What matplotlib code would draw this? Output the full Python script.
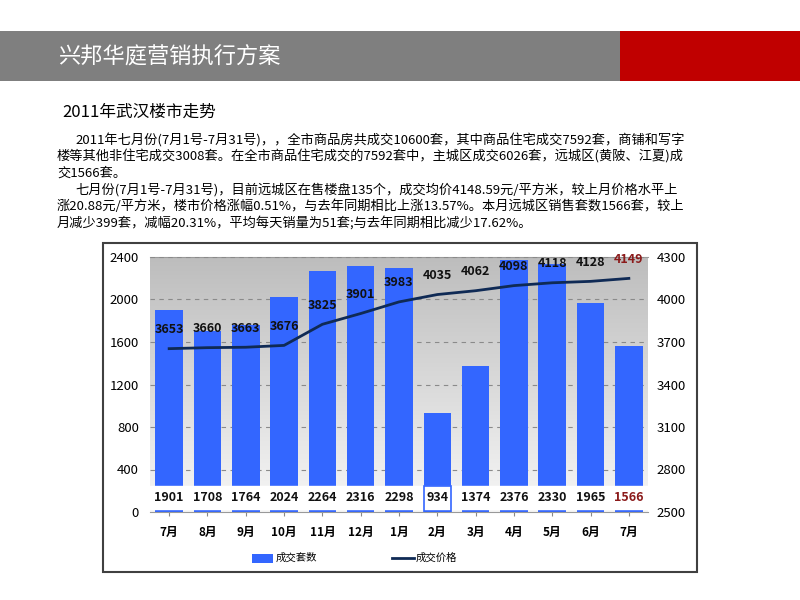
import numpy as np
import matplotlib
matplotlib.use("Agg")
import matplotlib.pyplot as plt
from matplotlib.patches import Rectangle

plt.rcParams['font.family'] = ['Noto Sans CJK SC', 'DejaVu Sans']

months = ['7月', '8月', '9月', '10月', '11月', '12月', '1月', '2月', '3月', '4月', '5月', '6月', '7月']
counts = [1901, 1708, 1764, 2024, 2264, 2316, 2298, 934, 1374, 2376, 2330, 1965, 1566]
prices = [3653, 3660, 3663, 3676, 3825, 3901, 3983, 4035, 4062, 4098, 4118, 4128, 4149]

header = '兴邦华庭营销执行方案'
subtitle = '2011年武汉楼市走势'
para = [
    '2011年七月份(7月1号-7月31号)，，全市商品房共成交10600套，其中商品住宅成交7592套，商铺和写字',
    '楼等其他非住宅成交3008套。在全市商品住宅成交的7592套中，主城区成交6026套，远城区(黄陂、江夏)成',
    '交1566套。',
    '七月份(7月1号-7月31号)，目前远城区在售楼盘135个，成交均价4148.59元/平方米，较上月价格水平上',
    '涨20.88元/平方米，楼市价格涨幅0.51%，与去年同期相比上涨13.57%。本月远城区销售套数1566套，较上',
    '月减少399套，减幅20.31%，平均每天销量为51套;与去年同期相比减少17.62%。',
]
indent = [True, False, False, True, False, False]

W, H = 800, 600
fig = plt.figure(figsize=(8, 6), dpi=100)

def fx(px):
    return px / W

def fy(py):
    return 1 - py / H

# header band
fig.patches.append(Rectangle((0, fy(81)), fx(620), fy(31) - fy(81), transform=fig.transFigure,
                             facecolor='#7f7f7f', edgecolor='none', zorder=-2))
fig.patches.append(Rectangle((fx(620), fy(81)), 1 - fx(620), fy(31) - fy(81), transform=fig.transFigure,
                             facecolor='#c00000', edgecolor='none', zorder=-2))
fig.text(fx(58), fy(57), header, color='white', fontsize=16, va='center', ha='left')
fig.text(fx(62), fy(112), subtitle, color='black', fontsize=12, va='center', ha='left')

y0 = 140
for i, line in enumerate(para):
    x = 75 if indent[i] else 57
    fig.text(fx(x), fy(y0 + i * 16.5), line, fontsize=9.5, va='center', ha='left')

# chart frame
fig.patches.append(Rectangle((fx(103), fy(572)), fx(697) - fx(103), fy(243) - fy(572),
                             transform=fig.transFigure, facecolor='white',
                             edgecolor='#404040', linewidth=1.5, zorder=-1))

ax = fig.add_axes([fx(150), fy(512), fx(648) - fx(150), fy(257) - fy(512)])
ax2 = ax.twinx()
ax.set_zorder(ax2.get_zorder() + 1)
ax.patch.set_visible(False)

x = np.arange(len(months))
ax.set_xlim(-0.5, len(months) - 0.5)
ax.set_ylim(0, 2400)
ax2.set_ylim(2500, 4300)

# gradient background
grad = np.linspace(0, 1, 256).reshape(-1, 1)
ax2.imshow(grad, extent=(-0.5, len(months) - 0.5, 2500, 4300), aspect='auto',
           cmap=matplotlib.colors.LinearSegmentedColormap.from_list('g', ['#f7f7f7', '#bdbdbd']),
           origin='lower', zorder=0)

for t in range(400, 2401, 400):
    ax.axhline(t, color='#8a8a8a', linestyle=(0, (4, 4)), linewidth=0.8, zorder=1)

ax.bar(x, counts, width=0.72, color='#3366ff', zorder=2)
# white label band over the bars
ax.axhspan(30, 245, color='white', zorder=3)
for i, v in enumerate(counts):
    col = '#8b1a1a' if i == len(counts) - 1 else '#111111'
    ax.text(i, 138, str(v), ha='center', va='center', fontsize=9, fontweight='bold',
            color=col, zorder=5)
i2 = counts.index(934)
ax.add_patch(Rectangle((i2 - 0.36, 0), 0.72, 245, fill=False, edgecolor='#3366ff',
                       linewidth=1.2, zorder=4))

# price line on a shared scale
ax.plot(x, [(p - 2500) * 2400 / 1800 for p in prices], color='#0f2a55', linewidth=2, zorder=6)
for i, p in enumerate(prices):
    col = '#8b1a1a' if i == len(prices) - 1 else '#111111'
    ax.text(i, (p - 2500 + 135) * 2400 / 1800, str(p), ha='center', va='center', fontsize=9,
            fontweight='bold', color=col, zorder=7)

ax.set_yticks(range(0, 2401, 400))
ax2.set_yticks(range(2500, 4301, 300))
ax.set_xticks(x)
ax.set_xticklabels(months, fontsize=8.5, fontweight='bold')
ax.tick_params(axis='y', labelsize=9.5, length=0, pad=8)
ax2.tick_params(axis='y', labelsize=9.5, length=0, pad=6)
ax.tick_params(axis='x', length=3, pad=7, color='#888888')
for a in (ax, ax2):
    for s in a.spines.values():
        s.set_visible(False)
ax.spines['bottom'].set_visible(True)
ax.spines['bottom'].set_color('#999999')
ax2.spines['top'].set_visible(True)
ax2.spines['top'].set_color('#999999')

# legend
fig.patches.append(Rectangle((fx(252), fy(563)), fx(21), fy(554) - fy(563), transform=fig.transFigure,
                             facecolor='#3366ff', edgecolor='none'))
fig.text(fx(276), fy(558), '成交套数', fontsize=7.5, va='center', ha='left')
fig.lines.append(plt.Line2D([fx(392), fx(414)], [fy(558), fy(558)], transform=fig.transFigure,
                            color='#0f2a55', linewidth=2))
fig.text(fx(416), fy(558), '成交价格', fontsize=7.5, va='center', ha='left')

fig.savefig('out.png', dpi=100)
